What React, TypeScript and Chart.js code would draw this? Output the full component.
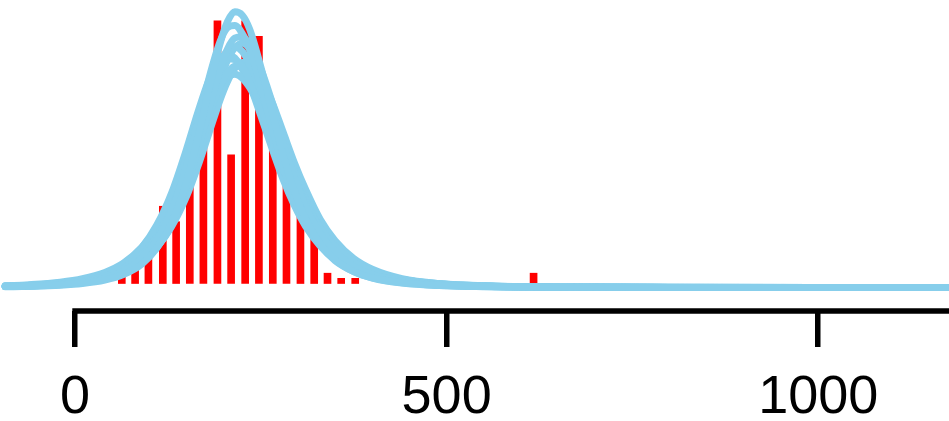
import React, { useEffect, useRef } from "react";
import { Chart, registerables } from "chart.js";

Chart.register(...registerables);

// x-axis tick labels
const xTicks = [0, 500, 1000];

// observed counts (red bars)
const barX = [62.9, 80.8, 98.7, 118.1, 136.0, 154.4, 172.7, 191.6, 210.0, 228.9, 247.4, 266.1, 284.5, 303.3, 321.8, 339.7, 358.1, 377.0, 617.0];
const barCounts = [2, 3, 5, 15, 12, 24, 28, 51, 25, 51, 48, 33, 24, 15, 9, 2, 1, 1, 2];

// replicated density curves (light blue), sampled at gridX
const gridX = [-94, -60, -20, 10, 40, 65, 90, 110, 130, 150, 165, 180, 195, 205, 215, 225, 235, 250, 265, 280, 295, 310, 330, 350, 375, 400, 440, 490, 560, 650, 800, 1000, 1200];
const curveA = [0.09, 0.16, 0.31, 0.54, 1.0, 1.75, 3.18, 5.3, 8.73, 14.3, 20.1, 26.7, 32.9, 35.9, 37.26, 36.8, 34.9, 29.8, 23.8, 17.9, 13.1, 9.33, 5.89, 3.73, 2.14, 1.28, 0.6, 0.25, 0.09, 0.03, 0.01, 0, 0];
const curveB = [0.12, 0.2, 0.39, 0.69, 1.28, 2.22, 3.98, 6.42, 10.4, 16.4, 22.1, 28.2, 33.2, 35.1, 35.4, 34.3, 32.1, 27.2, 21.6, 16.4, 12.1, 8.74, 5.68, 3.62, 2.14, 1.29, 0.62, 0.27, 0.1, 0.03, 0.01, 0, 0];
const curveC = [0.12, 0.2, 0.38, 0.65, 1.18, 1.98, 3.47, 5.51, 8.74, 13.7, 18.6, 24.1, 29.4, 32.2, 33.7, 33.9, 32.8, 29.3, 24.5, 19.4, 14.9, 11.0, 7.27, 4.79, 2.84, 1.73, 0.83, 0.36, 0.14, 0.04, 0.01, 0, 0];
const curveD = [0.14, 0.26, 0.49, 0.85, 1.52, 2.55, 4.42, 6.86, 10.7, 16.1, 21.0, 26.1, 30.3, 32.0, 32.5, 31.9, 30.2, 26.5, 21.9, 17.3, 13.2, 9.88, 6.63, 4.42, 2.68, 1.67, 0.82, 0.36, 0.14, 0.05, 0.01, 0, 0];
const curveE = [0.19, 0.32, 0.6, 1.05, 1.86, 3.1, 5.27, 8.06, 12.1, 17.6, 22.3, 26.7, 29.9, 30.9, 30.8, 29.8, 28.1, 24.4, 20.2, 16.0, 12.4, 9.36, 6.42, 4.37, 2.7, 1.71, 0.86, 0.4, 0.16, 0.06, 0.01, 0, 0];
const curveF = [0.18, 0.31, 0.56, 0.96, 1.66, 2.72, 4.53, 6.78, 10.2, 14.9, 19.1, 23.4, 27.2, 29.0, 29.9, 29.9, 28.9, 26.3, 22.6, 18.6, 14.8, 11.5, 8.01, 5.52, 3.45, 2.2, 1.1, 0.51, 0.19, 0.07, 0.02, 0, 0];
const curveG = [0.22, 0.38, 0.71, 1.18, 2.03, 3.28, 5.44, 8.04, 11.7, 16.5, 20.5, 24.4, 27.4, 28.5, 28.8, 28.3, 27.0, 24.2, 20.6, 17.0, 13.5, 10.5, 7.43, 5.18, 3.31, 2.14, 1.09, 0.51, 0.2, 0.07, 0.02, 0, 0];
const curveH = [0.12, 0.2, 0.39, 0.66, 1.18, 1.98, 3.4, 5.38, 8.38, 13.0, 17.5, 22.8, 27.9, 30.7, 32.4, 33.0, 32.3, 29.5, 25.1, 20.3, 15.7, 11.9, 7.99, 5.31, 3.15, 1.94, 0.92, 0.41, 0.16, 0.05, 0.01, 0, 0];
const curveI = [0.19, 0.31, 0.59, 1.05, 1.88, 3.18, 5.45, 8.44, 12.8, 18.7, 23.6, 28.0, 30.9, 31.5, 31.0, 29.5, 27.4, 23.2, 18.8, 14.6, 11.1, 8.3, 5.58, 3.75, 2.31, 1.46, 0.73, 0.33, 0.13, 0.05, 0.01, 0, 0];
const curveJ = [0.15, 0.24, 0.45, 0.76, 1.3, 2.11, 3.54, 5.4, 8.24, 12.3, 16.3, 20.8, 25.3, 27.8, 29.6, 30.4, 30.3, 28.4, 25.1, 21.0, 16.9, 13.3, 9.18, 6.31, 3.9, 2.46, 1.19, 0.53, 0.2, 0.07, 0.02, 0, 0];
const curves = [curveA, curveB, curveC, curveD, curveE, curveF, curveG, curveH, curveI, curveJ];

const axisLine = {
  id: "axisLine",
  afterDraw(chart: any) {
    const { ctx, chartArea, scales } = chart;
    const x0 = scales.x.getPixelForValue(xTicks[0]);
    const y = scales.x.top;
    ctx.save();
    ctx.strokeStyle = "#000";
    ctx.lineWidth = 5.5;
    ctx.beginPath();
    ctx.moveTo(x0 - 2.75, y);
    ctx.lineTo(chartArea.right + 5, y);
    ctx.stroke();
    ctx.restore();
  },
};

export default function App() {
  const ref = useRef<HTMLCanvasElement>(null);

  useEffect(() => {
    if (!ref.current) return;
    const lineSets = curves.map((c) => ({
      type: "line" as const,
      data: gridX.map((x, i) => ({ x, y: c[i] })),
      borderColor: "#87CEEB",
      borderWidth: 7,
      pointRadius: 0,
      cubicInterpolationMode: "monotone" as const,
      borderCapStyle: "round" as const,
      borderJoinStyle: "round" as const,
      fill: false,
      yAxisID: "yd",
      order: 0,
    }));
    const chart = new Chart(ref.current, {
      type: "bar",
      data: {
        datasets: [
          {
            type: "bar" as const,
            data: barX.map((x, i) => ({ x, y: barCounts[i] })),
            backgroundColor: "#ff0000",
            borderWidth: 0,
            barThickness: 7,
            yAxisID: "yb",
            order: 1,
          } as any,
          ...lineSets,
        ],
      },
      options: {
        animation: false,
        responsive: true,
        maintainAspectRatio: false,
        layout: { padding: 0 },
        plugins: { legend: { display: false }, tooltip: { enabled: false } },
        scales: {
          x: {
            type: "linear",
            min: -101,
            max: 1176,
            offset: false,
            border: { display: false },
            grid: {
              offset: false,
              drawOnChartArea: false,
              drawTicks: true,
              tickLength: 36,
              lineWidth: 5.5,
              color: "#000",
            },
            ticks: {
              color: "#000",
              padding: 19,
              maxRotation: 0,
              autoSkip: false,
              font: { family: "'Liberation Sans', Arial, sans-serif", size: 54 },
              callback: (v: any) => String(v),
            },
            afterBuildTicks: (scale: any) => {
              scale.ticks = xTicks.map((v) => ({ value: v }));
            },
            afterFit: (scale: any) => {
              scale.height = 110;
            },
          },
          yd: {
            type: "linear",
            display: false,
            min: -3.18,
            max: 38.85,
          },
          yb: {
            type: "linear",
            display: false,
            min: -5.34,
            max: 55.05,
          },
        },
      },
      plugins: [axisLine],
    });
    return () => chart.destroy();
  }, []);

  return (
    <div style={{ position: "fixed", left: 0, top: 0, width: 949, height: 421, background: "#fff" }}>
      <canvas ref={ref} />
    </div>
  );
}
